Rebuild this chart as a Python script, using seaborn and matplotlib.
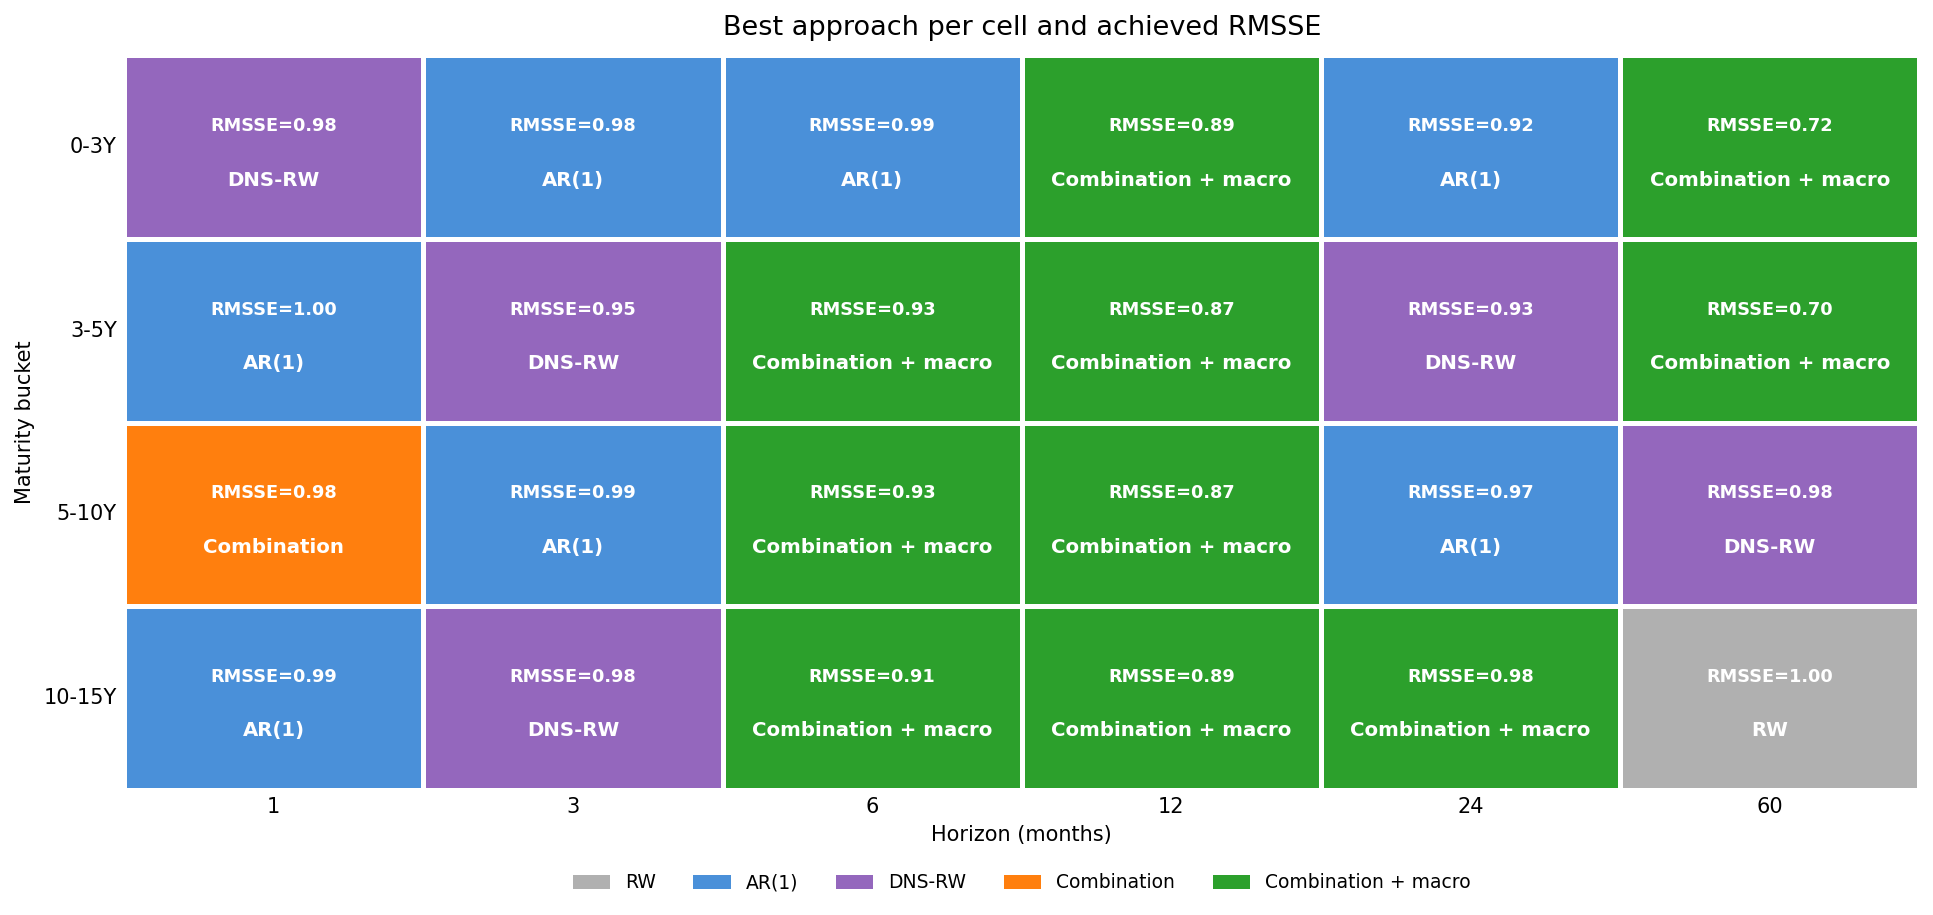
import numpy as np
import pandas as pd
import matplotlib
matplotlib.use("Agg")
import matplotlib.pyplot as plt
from matplotlib.colors import ListedColormap
from matplotlib.patches import Patch
import seaborn as sns

# Data
methods = ["RW", "AR(1)", "DNS-RW", "Combination", "Combination + macro"]
method_colors = ["#b0b0b0", "#4a90d9", "#9467bd", "#ff7f0e", "#2ca02c"]
buckets = ["0-3Y", "3-5Y", "5-10Y", "10-15Y"]
horizons = [1, 3, 6, 12, 24, 60]

best_0_3 = ["DNS-RW", "AR(1)", "AR(1)", "Combination + macro", "AR(1)", "Combination + macro"]
best_3_5 = ["AR(1)", "DNS-RW", "Combination + macro", "Combination + macro", "DNS-RW", "Combination + macro"]
best_5_10 = ["Combination", "AR(1)", "Combination + macro", "Combination + macro", "AR(1)", "DNS-RW"]
best_10_15 = ["AR(1)", "DNS-RW", "Combination + macro", "Combination + macro", "Combination + macro", "RW"]

rmsse_0_3 = [0.98, 0.98, 0.99, 0.89, 0.92, 0.72]
rmsse_3_5 = [1.00, 0.95, 0.93, 0.87, 0.93, 0.70]
rmsse_5_10 = [0.98, 0.99, 0.93, 0.87, 0.97, 0.98]
rmsse_10_15 = [0.99, 0.98, 0.91, 0.89, 0.98, 1.00]

best = [best_0_3, best_3_5, best_5_10, best_10_15]
rmsse = [rmsse_0_3, rmsse_3_5, rmsse_5_10, rmsse_10_15]

codes = pd.DataFrame([[methods.index(m) for m in row] for row in best],
                     index=buckets, columns=horizons)

fig = plt.figure(figsize=(12.893, 6.1), dpi=150)
ax = fig.add_axes([0.0642, 0.137, 0.9283, 0.8025])

cmap = ListedColormap(method_colors)
sns.heatmap(codes, cmap=cmap, vmin=-0.5, vmax=len(methods) - 0.5, cbar=False,
            linewidths=1.5, linecolor="white", ax=ax)

for i in range(len(buckets)):
    for j in range(len(horizons)):
        ax.text(j + 0.5, i + 0.385, f"RMSSE={rmsse[i][j]:.2f}", ha="center", va="center",
                color="white", fontsize=8.5, fontweight="bold")
        ax.text(j + 0.5, i + 0.68, best[i][j], ha="center", va="center",
                color="white", fontsize=9.5, fontweight="bold")

ax.set_title("Best approach per cell and achieved RMSSE", fontsize=13, pad=10)
ax.set_xlabel("Horizon (months)", fontsize=10)
ax.set_ylabel("Maturity bucket", fontsize=10)
ax.tick_params(length=0, labelsize=10)
ax.set_yticklabels(buckets, rotation=0)
ax.set_xticklabels([str(h) for h in horizons], rotation=0)

handles = [Patch(facecolor=c, label=m) for m, c in zip(methods, method_colors)]
ax_box = ax.get_position()
fig.legend(handles=handles, loc="center",
           bbox_to_anchor=((ax_box.x0 + ax_box.x1) / 2, 0.035), ncol=5,
           frameon=False, fontsize=9, handlelength=2.0, handleheight=0.85,
           columnspacing=2.0)

fig.savefig("out.png", dpi=150)
